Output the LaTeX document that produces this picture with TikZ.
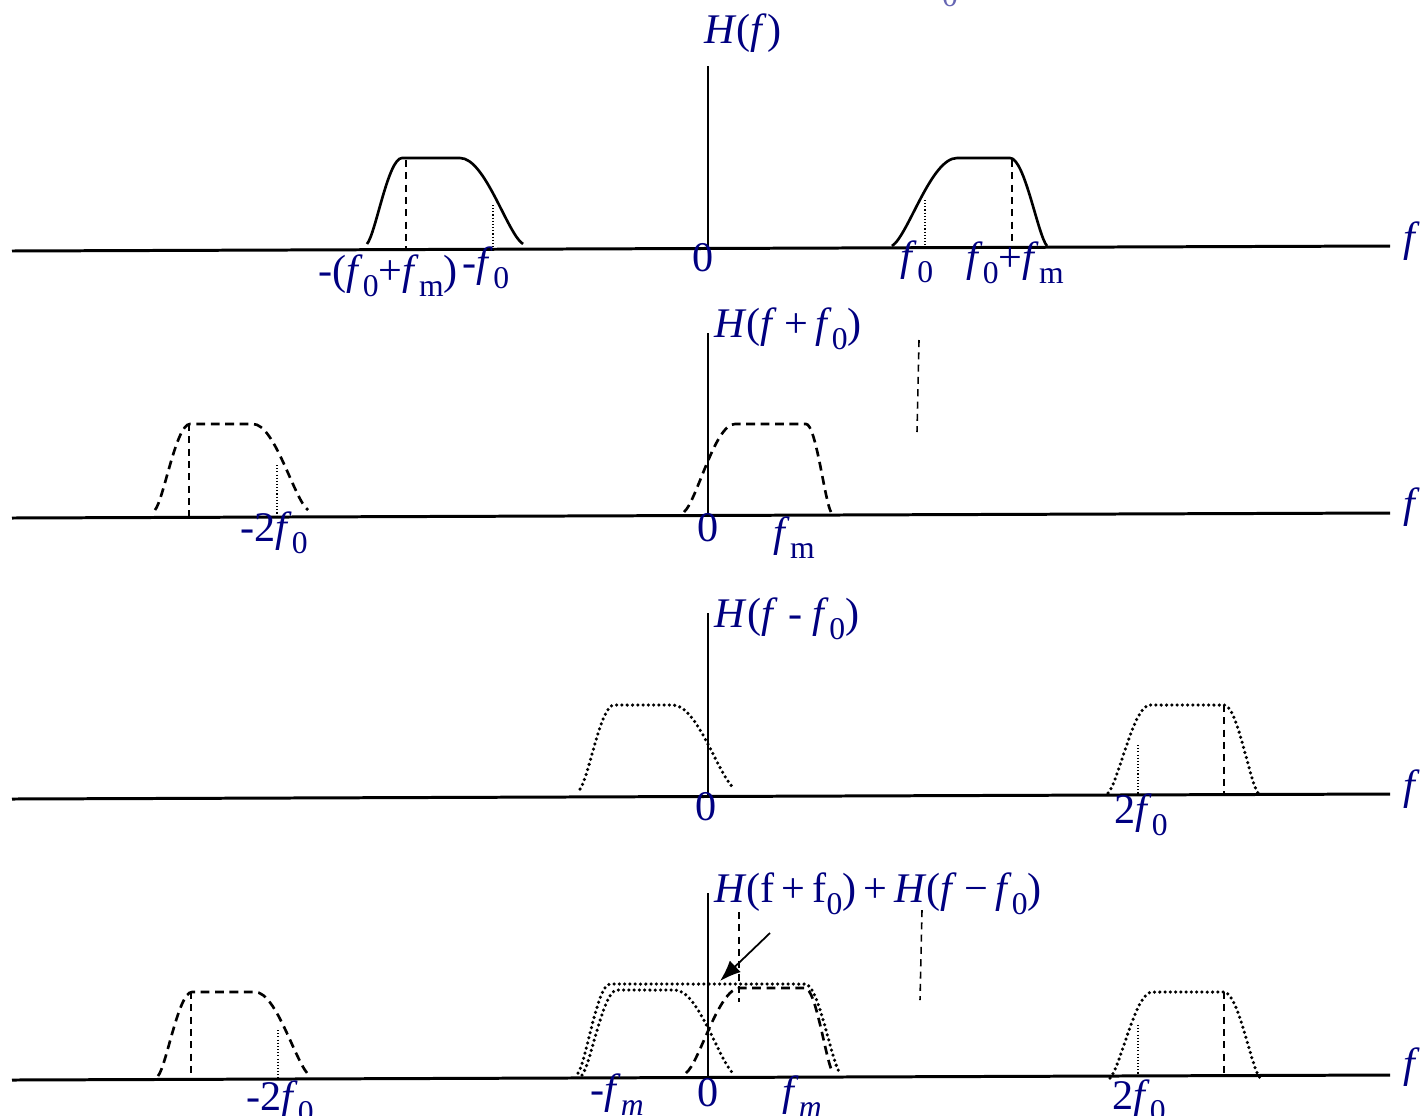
\documentclass[tikz,border=0pt]{standalone}
\usepackage{fontspec}
\setmainfont{Liberation Serif}
\usetikzlibrary{arrows.meta}
\definecolor{labelblue}{RGB}{0,0,128}
\newcommand{\lowsub}[1]{\raisebox{-0.3em}{\fontsize{9}{9}\selectfont #1}}
\newcommand{\bump}[7][]{\draw[#1] (#2,#7) .. controls ({#2+0.25*(#3-#2)},{#7-0.12*(#7-#6)}) and ({#3-0.4*(#3-#2)},#6) .. (#3,#6) -- (#4,#6) .. controls ({#4+0.4*(#5-#4)},#6) and ({#5-0.25*(#5-#4)},{#7-0.12*(#7-#6)}) .. (#5,#7);}

\begin{document}
\begin{tikzpicture}[x=0.01cm,y=-0.01cm,
  axis/.style={line width=0.85pt},
  yaxis/.style={line width=0.45pt},
  solidband/.style={line width=0.75pt},
  dashband/.style={line width=0.75pt,dash pattern=on 2.5pt off 1.6pt},
  dotband/.style={line width=1pt,line cap=round,dash pattern=on 0pt off 1.5pt},
  dashmark/.style={line width=0.45pt,dash pattern=on 2pt off 1.5pt},
  dotmark/.style={line width=0.3pt,dash pattern=on 0.3pt off 0.6pt},
  lbl/.style={text=labelblue,inner sep=0pt,anchor=base,font=\fontsize{12}{14}\selectfont}]
\useasboundingbox (0,0) rectangle (1425,1115);
\clip (0,0) rectangle (1425,1115);
\node[lbl,text=labelblue!60] (cut) at (950,7) {\fontsize{9}{9}\selectfont 0};
\draw[axis] (12,251) -- (1390,246);
\draw[yaxis] (708,66) -- (708,250);
\bump[solidband]{367}{402}{460}{523}{158}{244}
\bump[solidband]{892}{957}{1010}{1047}{158}{246}
\draw[dashmark] (406,160) -- (406,249);
\draw[dotmark] (493,205) -- (493,249);
\draw[dotmark] (925,200) -- (925,247);
\draw[dashmark] (1012,160) -- (1012,247);
\node[lbl] (h1) at (743,43) {\textit{H}(\textit{f})};
\node[lbl] (z1) at (703,271) {0};
\node[lbl] (fl1) at (388,284) {-(\textit{f}\lowsub{0}+\textit{f}\lowsub{m})};
\node[lbl] (nf1) at (486,276) {-\textit{f}\lowsub{0}};
\node[lbl] (pf1) at (917,270) {\textit{f}\lowsub{0}};
\node[lbl] (fr1) at (1015,271) {\textit{f}\lowsub{0}+\textit{f}\lowsub{m}};
\node[lbl] (ax1) at (1412,251) {\textit{f}};
\draw[axis] (12,518) -- (1390,513);
\draw[yaxis] (708,333) -- (708,516);
\bump[dashband]{155}{190}{253}{308}{424}{510}
\bump[dashband]{684}{735}{806}{831}{424}{512}
\draw[dashmark] (189,424) -- (189,516);
\draw[dotmark] (277,465) -- (277,517);
\draw[dashmark] (919,340) -- (917,432);
\node[lbl] (h2) at (788,337) {\textit{H}(\textit{f}\,+\,\textit{f}\lowsub{0})};
\node[lbl] (n2) at (274,541) {-2\textit{f}\lowsub{0}};
\node[lbl] (z2) at (708,541) {0};
\node[lbl] (m2) at (794,546) {\textit{f}\lowsub{m}};
\node[lbl] (ax2) at (1412,517) {\textit{f}};
\draw[axis] (12,799) -- (1390,794);
\draw[yaxis] (708,613) -- (708,797);
\bump[dotband]{580}{614}{673}{735}{705}{789}
\bump[dotband]{1108}{1150}{1224}{1258}{705}{793}
\draw[dotmark] (1138,745) -- (1138,795);
\draw[dashmark] (1224,705) -- (1224,795);
\node[lbl] (h3) at (787,627) {\textit{H}(\textit{f} - \textit{f}\lowsub{0})};
\node[lbl] (z3) at (706,820) {0};
\node[lbl] (p3) at (1141,823) {2\textit{f}\lowsub{0}};
\node[lbl] (ax3) at (1412,799) {\textit{f}};
\draw[axis] (12,1080) -- (1390,1075);
\draw[yaxis] (708,893) -- (708,1078);
\bump[dashband]{158}{192}{255}{310}{992}{1076}
\draw[dashmark] (191,992) -- (191,1079);
\draw[dotmark] (278,1030) -- (278,1080);
\bump[dotband]{578}{610}{805}{840}{984}{1073}
\bump[dotband]{582}{617}{675}{735}{990}{1075}
\bump[dashband]{686}{740}{805}{833}{988}{1073}
\draw[dashmark] (739,912) -- (739,1002);
\draw[dashmark] (922,910) -- (920,1000);
\bump[dotband]{1110}{1152}{1224}{1260}{992}{1078}
\draw[dotmark] (1138,1025) -- (1138,1077);
\draw[dashmark] (1224,992) -- (1224,1077);
\coordinate (tail) at (770,933);
\coordinate (tip) at (720,981);
\draw[-{Latex[length=6pt,width=4.5pt]},line width=0.5pt] (tail) -- (tip);
\node[lbl] (h4) at (878,902) {\textit{H}(f\,+\,f\lowsub{0})\,+\,\textit{H}(\textit{f}\,−\,\textit{f}\lowsub{0})};
\node[lbl] (n4) at (280,1110) {-2\textit{f}\lowsub{0}};
\node[lbl] (nm4) at (617,1103) {-\textit{f}\lowsub{\textit{m}}};
\node[lbl] (z4) at (708,1106) {0};
\node[lbl] (m4) at (802,1105) {\textit{f}\lowsub{\textit{m}}};
\node[lbl] (p4) at (1139,1109) {2\textit{f}\lowsub{0}};
\node[lbl] (ax4) at (1412,1077) {\textit{f}};
\end{tikzpicture}
\end{document}
